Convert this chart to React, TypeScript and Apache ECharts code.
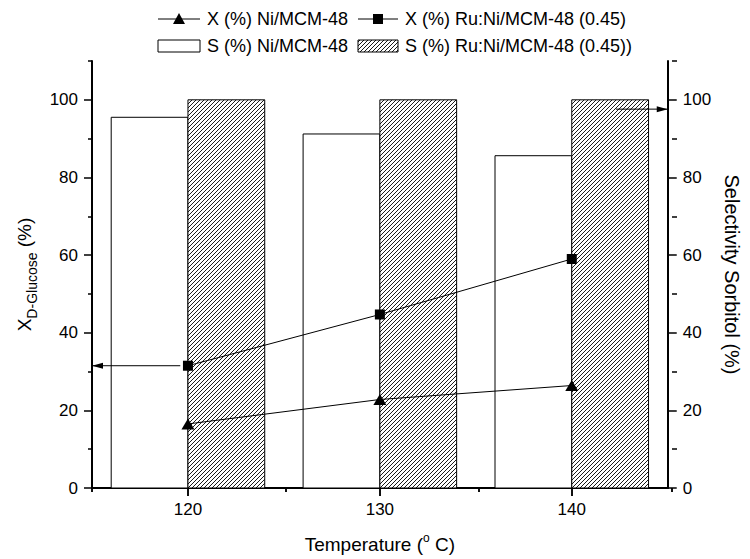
import React, { useEffect, useRef } from "react";
import * as echarts from "echarts";

// ---- data ----
const temperatures = [120, 130, 140];
const convNi = [16.5, 22.8, 26.4];
const convRuNi = [31.5, 44.7, 59.0];
const selNi = [95.5, 91.2, 85.6];
const selRuNi = [100, 100, 100];
const xMajorTicks = [120, 130, 140];
const xMinorTicks = [115, 125, 135, 145];
const yMajorTicks = [0, 20, 40, 60, 80, 100];
const yMinorTicks = [10, 30, 50, 70, 90, 110];
const leftArrow = [[119.6, 31.5], [115, 31.5]];
const rightArrow = [[142.3, 97.6], [145, 97.6]];
const legendLabels = [
  "X (%) Ni/MCM-48",
  "X (%) Ru:Ni/MCM-48 (0.45)",
  "S (%) Ni/MCM-48",
  "S (%) Ru:Ni/MCM-48 (0.45))",
];

const FONT = "'Liberation Sans', Arial, Helvetica, sans-serif";
const BAR_W = 4;
const HATCH_STEP = 4;

function hatchLines(L: number, T: number, W: number, H: number, s: number) {
  const out: any[] = [];
  const cStart = Math.ceil((L + T) / s) * s;
  for (let c = cStart; c <= L + W + T + H; c += s) {
    const xa = Math.max(L, c - T - H);
    const xb = Math.min(L + W, c - T);
    if (xb - xa < 0.4) continue;
    out.push({
      type: "line",
      shape: { x1: xa, y1: c - xa, x2: xb, y2: c - xb },
      style: { stroke: "#000", lineWidth: 0.9 },
      silent: true,
    });
  }
  return out;
}

function barRenderer(side: number, hatched: boolean) {
  return (params: any, api: any) => {
    const x = api.value(0);
    const v = api.value(1);
    const xa = side < 0 ? x - BAR_W : x;
    const xb = side < 0 ? x : x + BAR_W;
    const p0 = api.coord([xa, 0]);
    const p1 = api.coord([xb, v]);
    const L = p0[0];
    const T = p1[1];
    const W = p1[0] - p0[0];
    const H = p0[1] - p1[1];
    const children: any[] = [
      { type: "rect", shape: { x: L, y: T, width: W, height: H }, style: { fill: "#fff" } },
    ];
    if (hatched) children.push(...hatchLines(L, T, W, H, HATCH_STEP));
    children.push({
      type: "rect",
      shape: { x: L, y: T, width: W, height: H },
      style: { fill: "none", stroke: "#000", lineWidth: 1 },
    });
    return { type: "group", children };
  };
}

function legendGraphics() {
  const g: any[] = [];
  const r1 = 19;
  const r2 = 46;
  const txt = (x: number, y: number, s: string) => ({
    type: "text",
    x,
    y,
    style: { text: s, fontSize: 18, fontFamily: FONT, fill: "#000", verticalAlign: "middle", align: "left" },
  });
  // item 1: line + triangle
  g.push({ type: "line", shape: { x1: 158, y1: r1, x2: 200, y2: r1 }, style: { stroke: "#000", lineWidth: 1 } });
  g.push({
    type: "polygon",
    shape: { points: [[179, r1 - 6], [185, r1 + 5], [173, r1 + 5]] },
    style: { fill: "#000" },
  });
  g.push(txt(207, r1, legendLabels[0]));
  // item 2: line + square
  g.push({ type: "line", shape: { x1: 358, y1: r1, x2: 398, y2: r1 }, style: { stroke: "#000", lineWidth: 1 } });
  g.push({ type: "rect", shape: { x: 373, y: r1 - 5, width: 10, height: 10 }, style: { fill: "#000" } });
  g.push(txt(405, r1, legendLabels[1]));
  // item 3: white box
  g.push({ type: "rect", shape: { x: 158, y: r2 - 6, width: 42, height: 12 }, style: { fill: "#fff", stroke: "#000", lineWidth: 1 } });
  g.push(txt(207, r2, legendLabels[2]));
  // item 4: hatched box
  g.push({ type: "rect", shape: { x: 358, y: r2 - 6, width: 40, height: 12 }, style: { fill: "#fff" } });
  g.push(...hatchLines(358, r2 - 6, 40, 12, HATCH_STEP));
  g.push({ type: "rect", shape: { x: 358, y: r2 - 6, width: 40, height: 12 }, style: { fill: "none", stroke: "#000", lineWidth: 1 } });
  g.push(txt(405, r2, legendLabels[3]));
  return g;
}

export default function App() {
  const ref = useRef<HTMLDivElement>(null);
  useEffect(() => {
    if (!ref.current) return;
    const chart = echarts.init(ref.current, null, { renderer: "svg" });
    const gridRect = { left: 92, right: 78, top: 61, bottom: 71, containLabel: false };
    const baseX = { type: "value", min: 115, max: 145, splitLine: { show: false } };
    const baseY = { type: "value", min: 0, max: 110, splitLine: { show: false } };
    const lbl = { fontSize: 17, fontFamily: FONT, color: "#000" };
    const tickStyle = (w: number) => ({ color: "#000", width: w });

    const option: any = {
      animation: false,
      backgroundColor: "#fff",
      grid: [gridRect, gridRect],
      xAxis: [
        {
          ...baseX,
          gridIndex: 0,
          position: "bottom",
          axisLine: { lineStyle: { color: "#000", width: 2 } },
          axisTick: { customValues: xMajorTicks, length: 8, lineStyle: tickStyle(1.5) },
          axisLabel: { ...lbl, customValues: xMajorTicks, margin: 13 },
          name: "Temperature ({sup|o} C)",
          nameLocation: "middle",
          nameGap: 44,
          nameTextStyle: {
            fontSize: 19,
            fontFamily: FONT,
            color: "#000",
            rich: { sup: { fontSize: 12, fontFamily: FONT, color: "#000", padding: [0, 0, 12, 0] } },
          },
        },
        {
          ...baseX,
          gridIndex: 0,
          position: "top",
          axisLine: { lineStyle: { color: "#000", width: 1.5 } },
          axisTick: { inside: true, customValues: xMajorTicks, length: 8, lineStyle: tickStyle(1.5) },
          axisLabel: { show: false },
        },
        {
          ...baseX,
          gridIndex: 1,
          position: "bottom",
          axisLine: { show: false },
          axisTick: { customValues: xMinorTicks, length: 4, lineStyle: tickStyle(1.5) },
          axisLabel: { show: false },
        },
        {
          ...baseX,
          gridIndex: 1,
          position: "top",
          axisLine: { show: false },
          axisTick: { inside: true, customValues: xMinorTicks, length: 4, lineStyle: tickStyle(1.5) },
          axisLabel: { show: false },
        },
      ],
      yAxis: [
        {
          ...baseY,
          gridIndex: 0,
          position: "left",
          axisLine: { show: true, lineStyle: { color: "#000", width: 2 } },
          axisTick: { show: true, customValues: yMajorTicks, length: 8, lineStyle: tickStyle(1.5) },
          axisLabel: { ...lbl, customValues: yMajorTicks, margin: 14 },
          name: "X{sub|D-Glucose} (%)",
          nameLocation: "middle",
          nameGap: 52,
          nameTextStyle: {
            fontSize: 19,
            fontFamily: FONT,
            color: "#000",
            rich: { sub: { fontSize: 14, fontFamily: FONT, color: "#000", padding: [14, 0, 0, 0] } },
          },
        },
        {
          ...baseY,
          gridIndex: 0,
          position: "right",
          axisLine: { show: true, lineStyle: { color: "#000", width: 2 } },
          axisTick: { show: true, customValues: yMajorTicks, length: 9, lineStyle: tickStyle(1.5) },
          axisLabel: { ...lbl, customValues: yMajorTicks, margin: 15 },
          name: "Selectivity Sorbitol (%)",
          nameLocation: "middle",
          nameRotate: -90,
          nameGap: 50,
          nameTextStyle: { fontSize: 20, fontFamily: FONT, color: "#000" },
        },
        {
          ...baseY,
          gridIndex: 1,
          position: "left",
          axisLine: { show: false },
          axisTick: { show: true, customValues: yMinorTicks, length: 4, lineStyle: tickStyle(1.5) },
          axisLabel: { show: false },
        },
        {
          ...baseY,
          gridIndex: 1,
          position: "right",
          axisLine: { show: false },
          axisTick: { show: true, customValues: yMinorTicks, length: 5, lineStyle: tickStyle(1.5) },
          axisLabel: { show: false },
        },
      ],
      series: [
        {
          type: "custom",
          name: legendLabels[2],
          xAxisIndex: 0,
          yAxisIndex: 1,
          renderItem: barRenderer(-1, false),
          data: temperatures.map((t, i) => [t, selNi[i]]),
          z: 1,
        },
        {
          type: "custom",
          name: legendLabels[3],
          xAxisIndex: 0,
          yAxisIndex: 1,
          renderItem: barRenderer(1, true),
          data: temperatures.map((t, i) => [t, selRuNi[i]]),
          z: 1,
        },
        {
          type: "line",
          name: legendLabels[0],
          xAxisIndex: 0,
          yAxisIndex: 0,
          data: temperatures.map((t, i) => [t, convNi[i]]),
          symbol: "triangle",
          symbolSize: [13, 11],
          lineStyle: { color: "#000", width: 1 },
          itemStyle: { color: "#000" },
          z: 5,
        },
        {
          type: "line",
          name: legendLabels[1],
          xAxisIndex: 0,
          yAxisIndex: 0,
          data: temperatures.map((t, i) => [t, convRuNi[i]]),
          symbol: "rect",
          symbolSize: 10,
          lineStyle: { color: "#000", width: 1 },
          itemStyle: { color: "#000" },
          z: 5,
        },
        {
          type: "line",
          xAxisIndex: 0,
          yAxisIndex: 0,
          data: [
            { value: leftArrow[0], symbol: "none" },
            { value: leftArrow[1], symbol: "triangle", symbolSize: [6, 11], symbolRotate: 90, symbolOffset: [5.5, 0] },
          ],
          showSymbol: true,
          lineStyle: { color: "#000", width: 1 },
          itemStyle: { color: "#000" },
          z: 6,
        },
        {
          type: "line",
          xAxisIndex: 0,
          yAxisIndex: 1,
          data: [
            { value: rightArrow[0], symbol: "none" },
            { value: rightArrow[1], symbol: "triangle", symbolSize: [6, 11], symbolRotate: -90, symbolOffset: [-5.5, 0] },
          ],
          showSymbol: true,
          lineStyle: { color: "#000", width: 1 },
          itemStyle: { color: "#000" },
          z: 6,
        },
      ],
      graphic: legendGraphics(),
    };
    chart.setOption(option);
    return () => chart.dispose();
  }, []);
  return (
    <div
      ref={ref}
      style={{ position: "fixed", left: 0, top: 0, width: 750, height: 559, background: "#fff" }}
    />
  );
}
